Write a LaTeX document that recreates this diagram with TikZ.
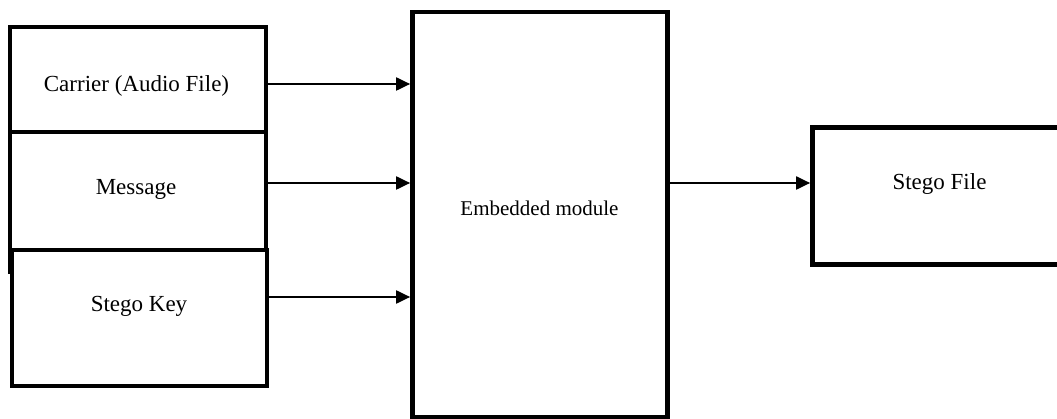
\documentclass[tikz,border=0pt]{standalone}
\usepackage{fontspec}
\setmainfont{Liberation Serif}
\usepackage{tikz}
\usetikzlibrary{arrows.meta,positioning,calc}
\tikzstyle{block}=[draw,fill=white,line width=4.7pt,rectangle,inner sep=0pt]
\tikzstyle{caption}=[anchor=base,inner sep=0pt,font=\fontsize{23}{27}\selectfont]
\tikzstyle{flow}=[line width=2pt,-{Triangle[length=14pt,width=13pt]}]

\begin{document}
\begin{tikzpicture}[x=1pt,y=-1pt]
\useasboundingbox (0,0) rectangle (1057,419);
% input blocks on the left
\node [block,minimum width=256,minimum height=105] (carrier) at (138,79.5) {};
\node [block,minimum width=256,minimum height=140] (message) at (138,202) {};
\node [block,minimum width=255,minimum height=136] (key) at (139.5,318) {};
% embedding block and result
\node [block,minimum width=255,minimum height=405] (embed) at (540,214.5) {};
\node [block,minimum width=250,minimum height=137] (stego) at (937.5,196) {};
% texts
\node [caption] (carriertxt) at (136.5,92) {Carrier (Audio File)};
\node [caption] (messagetxt) at (136,195) {Message};
\node [caption] (keytxt) at (139,312) {Stego Key};
\node [caption,font=\fontsize{21}{25}\selectfont] (embedtxt) at (539.5,216) {Embedded module};
\node [caption] (stegotxt) at (939.5,190) {Stego File};
% arrows
\draw [flow] ($(carrier.east)+(0,4.5)$) coordinate (c1) -- (c1 -| embed.west);
\draw [flow] ($(message.east)+(0,-19)$) coordinate (c2) -- (c2 -| embed.west);
\draw [flow] ($(key.east)+(0,-21)$) coordinate (c3) -- (c3 -| embed.west);
\draw [flow] ($(embed.east)+(0,-31.5)$) coordinate (c4) -- (c4 -| stego.west);
\end{tikzpicture}
\end{document}
